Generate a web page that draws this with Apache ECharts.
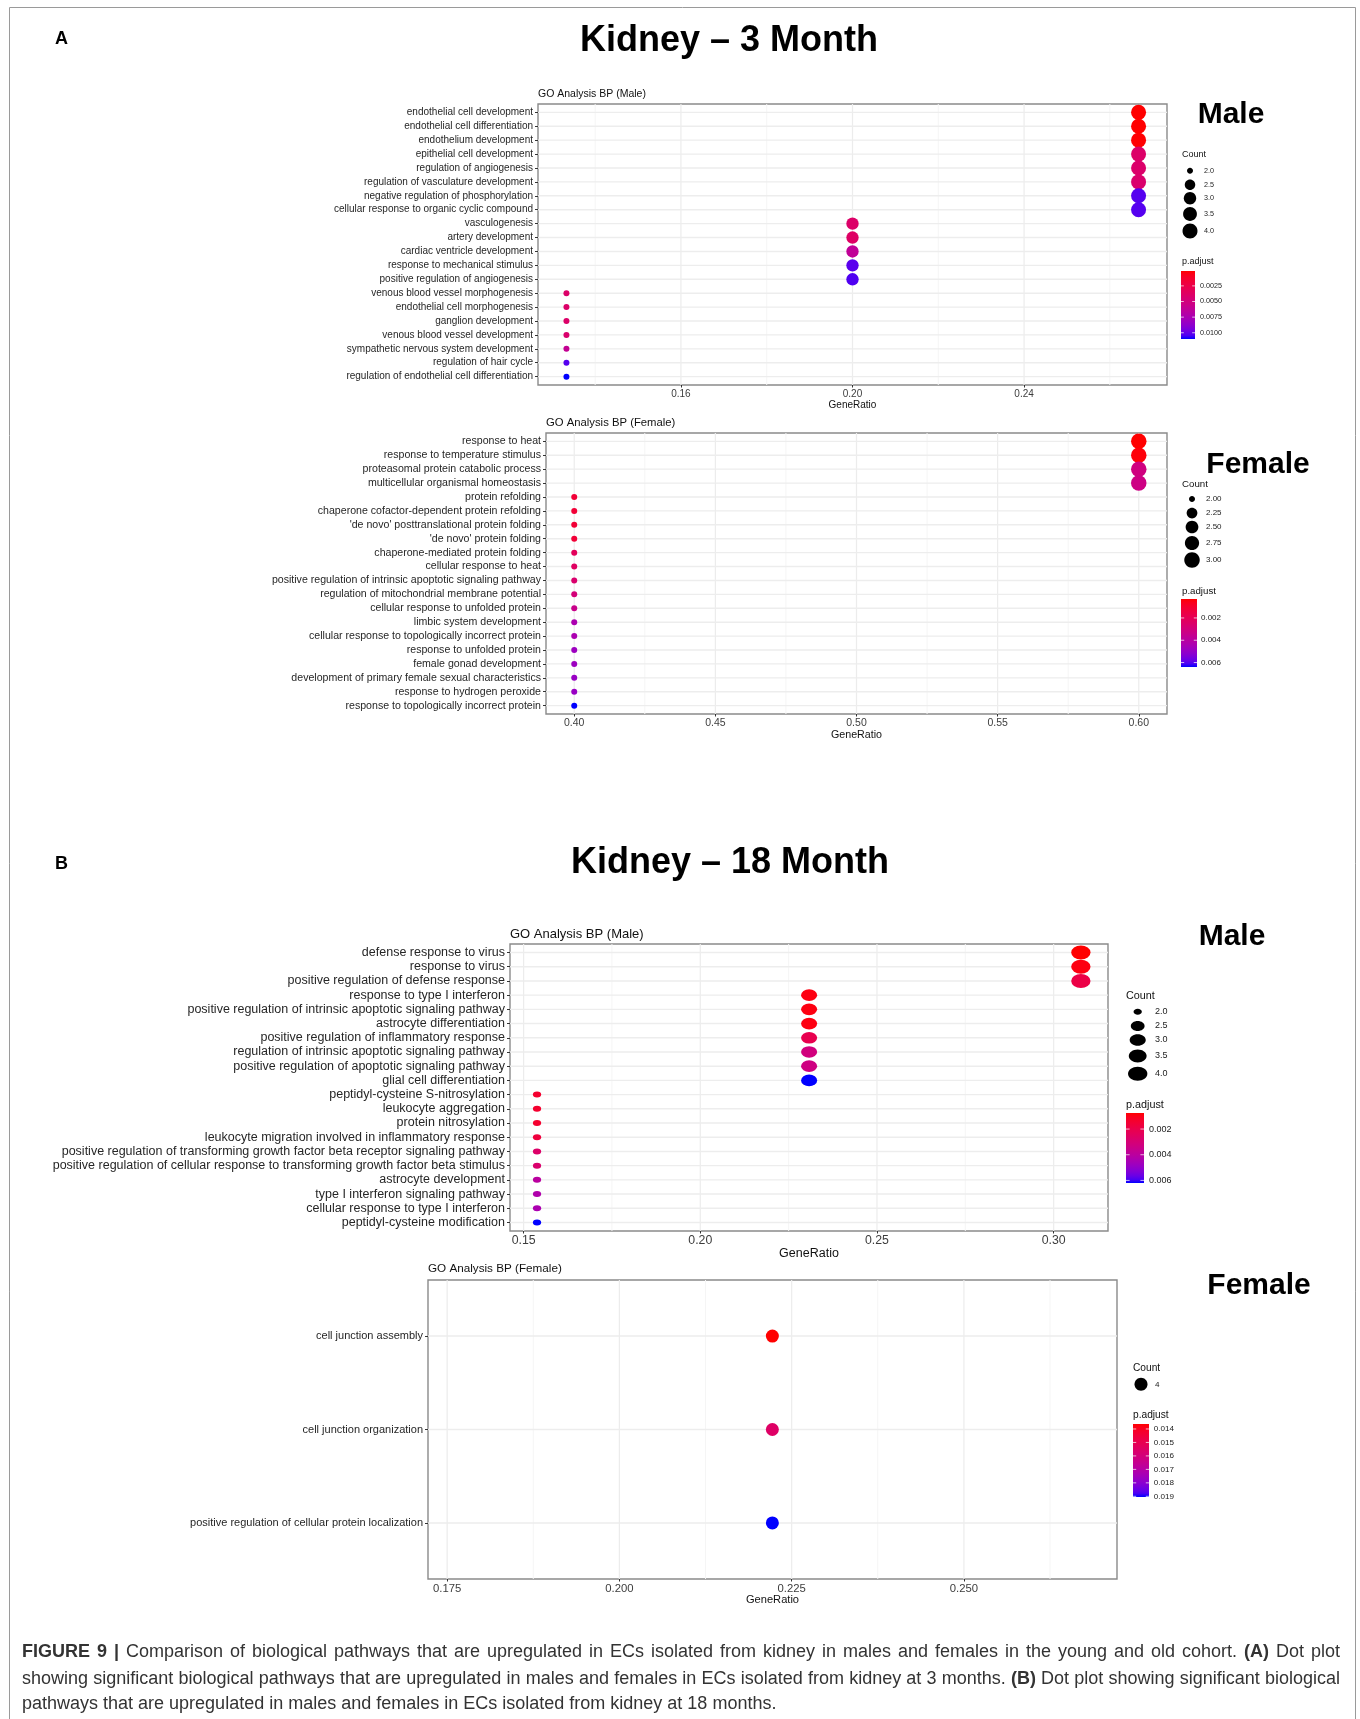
<!DOCTYPE html>
<html><head><meta charset="utf-8">
<script src="https://cdn.jsdelivr.net/npm/echarts@6/dist/echarts.min.js"></script>
<style>html,body{margin:0;padding:0;background:#fff}#c{width:1360px;height:1719px}</style>
</head><body><div id="c"></div><script>
// ---------------- DATA ----------------
// A: Kidney 3 Month, Male
const catsAM = ['endothelial cell development','endothelial cell differentiation','endothelium development','epithelial cell development','regulation of angiogenesis','regulation of vasculature development','negative regulation of phosphorylation','cellular response to organic cyclic compound','vasculogenesis','artery development','cardiac ventricle development','response to mechanical stimulus','positive regulation of angiogenesis','venous blood vessel morphogenesis','endothelial cell morphogenesis','ganglion development','venous blood vessel development','sympathetic nervous system development','regulation of hair cycle','regulation of endothelial cell differentiation'];
const ratioAM = [0.2667,0.2667,0.2667,0.2667,0.2667,0.2667,0.2667,0.2667,0.2,0.2,0.2,0.2,0.2,0.1333,0.1333,0.1333,0.1333,0.1333,0.1333,0.1333];
const countAM = [4,4,4,4,4,4,4,4,3,3,3,3,3,2,2,2,2,2,2,2];
const padjAM = [0.00012,0.00012,0.00015,0.0040,0.0041,0.0042,0.0103,0.0103,0.0040,0.0038,0.0062,0.0102,0.0104,0.0040,0.0040,0.0040,0.0042,0.0060,0.0103,0.0110];
const xTicksAM = [0.16,0.20,0.24];
const xMinorAM = [0.14,0.18,0.22,0.26];
const sizeBreaksAM = [2.0,2.5,3.0,3.5,4.0];
const colorBreaksAM = [0.0025,0.0050,0.0075,0.0100];

// A: Kidney 3 Month, Female
const catsAF = ['response to heat','response to temperature stimulus','proteasomal protein catabolic process','multicellular organismal homeostasis','protein refolding','chaperone cofactor-dependent protein refolding',"'de novo' posttranslational protein folding","'de novo' protein folding",'chaperone-mediated protein folding','cellular response to heat','positive regulation of intrinsic apoptotic signaling pathway','regulation of mitochondrial membrane potential','cellular response to unfolded protein','limbic system development','cellular response to topologically incorrect protein','response to unfolded protein','female gonad development','development of primary female sexual characteristics','response to hydrogen peroxide','response to topologically incorrect protein'];
const ratioAF = [0.6,0.6,0.6,0.6,0.4,0.4,0.4,0.4,0.4,0.4,0.4,0.4,0.4,0.4,0.4,0.4,0.4,0.4,0.4,0.4];
const countAF = [3,3,3,3,2,2,2,2,2,2,2,2,2,2,2,2,2,2,2,2];
const padjAF = [0.0003,0.0004,0.0031,0.0032,0.0012,0.0012,0.0012,0.0012,0.0021,0.0023,0.0026,0.0029,0.0034,0.0044,0.0044,0.0048,0.0048,0.0049,0.0049,0.0064];
const xTicksAF = [0.40,0.45,0.50,0.55,0.60];
const xMinorAF = [0.425,0.475,0.525,0.575];
const sizeBreaksAF = [2.00,2.25,2.50,2.75,3.00];
const colorBreaksAF = [0.002,0.004,0.006];

// B: Kidney 18 Month, Male
const catsBM = ['defense response to virus','response to virus','positive regulation of defense response','response to type I interferon','positive regulation of intrinsic apoptotic signaling pathway','astrocyte differentiation','positive regulation of inflammatory response','regulation of intrinsic apoptotic signaling pathway','positive regulation of apoptotic signaling pathway','glial cell differentiation','peptidyl-cysteine S-nitrosylation','leukocyte aggregation','protein nitrosylation','leukocyte migration involved in inflammatory response','positive regulation of transforming growth factor beta receptor signaling pathway','positive regulation of cellular response to transforming growth factor beta stimulus','astrocyte development','type I interferon signaling pathway','cellular response to type I interferon','peptidyl-cysteine modification'];
const ratioBM = [0.3077,0.3077,0.3077,0.2308,0.2308,0.2308,0.2308,0.2308,0.2308,0.2308,0.1538,0.1538,0.1538,0.1538,0.1538,0.1538,0.1538,0.1538,0.1538,0.1538];
const countBM = [4,4,4,3,3,3,3,3,3,3,2,2,2,2,2,2,2,2,2,2];
const padjBM = [0.00075,0.0009,0.0019,0.0009,0.0009,0.0009,0.0021,0.0032,0.0033,0.0062,0.0014,0.0014,0.0014,0.0017,0.0027,0.0028,0.0040,0.0043,0.0044,0.0062];
const xTicksBM = [0.15,0.20,0.25,0.30];
const xMinorBM = [0.175,0.225,0.275];
const sizeBreaksBM = [2.0,2.5,3.0,3.5,4.0];
const colorBreaksBM = [0.002,0.004,0.006];

// B: Kidney 18 Month, Female
const catsBF = ['cell junction assembly','cell junction organization','positive regulation of cellular protein localization'];
const ratioBF = [0.2222,0.2222,0.2222];
const countBF = [4,4,4];
const padjBF = [0.01363,0.0155,0.01905];
const xTicksBF = [0.175,0.200,0.225,0.250];
const xMinorBF = [0.1875,0.2125,0.2375,0.2625];
const sizeBreaksBF = [4];
const colorBreaksBF = [0.014,0.015,0.016,0.017,0.018,0.019];

// ---------------- STYLE / LAYOUT ----------------
const FONT = '"Liberation Sans", Arial, Helvetica, sans-serif';

function srgb2lin(c){c/=255;return c<=0.04045?c/12.92:Math.pow((c+0.055)/1.055,2.4);}
function lin2srgb(c){c=Math.max(0,Math.min(1,c));return Math.round(255*(c<=0.0031308?12.92*c:1.055*Math.pow(c,1/2.4)-0.055));}
function rgb2lab(r,g,b){
  r=srgb2lin(r);g=srgb2lin(g);b=srgb2lin(b);
  let X=(0.4124564*r+0.3575761*g+0.1804375*b)/0.95047, Y=(0.2126729*r+0.7151522*g+0.0721750*b), Z=(0.0193339*r+0.1191920*g+0.9503041*b)/1.08883;
  const f=t=>t>0.008856?Math.cbrt(t):7.787*t+16/116;
  const fx=f(X),fy=f(Y),fz=f(Z);
  return [116*fy-16,500*(fx-fy),200*(fy-fz)];
}
function lab2hex(L,a,b){
  const fy=(L+16)/116, fx=fy+a/500, fz=fy-b/200;
  const fi=t=>t*t*t>0.008856?t*t*t:(t-16/116)/7.787;
  const X=fi(fx)*0.95047, Y=fi(fy), Z=fi(fz)*1.08883;
  const r=3.2404542*X-1.5371385*Y-0.4985314*Z, g=-0.9692660*X+1.8760108*Y+0.0415560*Z, bb=0.0556434*X-0.2040259*Y+1.0572252*Z;
  const h=v=>lin2srgb(v).toString(16).padStart(2,'0');
  return '#'+h(r)+h(g)+h(bb);
}
const LAB_LO = rgb2lab(255,0,0), LAB_HI = rgb2lab(0,0,255);
function gradColor(t){t=Math.max(0,Math.min(1,t));return lab2hex(LAB_LO[0]+(LAB_HI[0]-LAB_LO[0])*t,LAB_LO[1]+(LAB_HI[1]-LAB_LO[1])*t,LAB_LO[2]+(LAB_HI[2]-LAB_LO[2])*t);}

const panels = [
  {cats:catsAM, ratio:ratioAM, count:countAM, padj:padjAM, xTicks:xTicksAM, xMinor:xMinorAM, sizeBreaks:sizeBreaksAM, colorBreaks:colorBreaksAM,
   title:'GO Analysis BP (Male)', grid:{left:538,top:104,width:629,height:281}, xMin:0.12667, xMax:0.27333, dec:2,
   fs:{y:10,x:10,name:10,title:10.5}, titleY:94, labMargin:4, nameGap:14,
   dmin:6, dmax:15, aspect:1,
   leg:{x:1182, countY:155, circX:1190, circY:[170.7,184.7,198.3,214,231], labX:1204, padjY:262, bar:[1181,271,14,68], barLabX:1200, fsTitle:9, fsLab:7.2, sizeDec:1, colDec:4}},
  {cats:catsAF, ratio:ratioAF, count:countAF, padj:padjAF, xTicks:xTicksAF, xMinor:xMinorAF, sizeBreaks:sizeBreaksAF, colorBreaks:colorBreaksAF,
   title:'GO Analysis BP (Female)', grid:{left:546,top:433,width:621,height:281}, xMin:0.39, xMax:0.61, dec:2,
   fs:{y:10.6,x:10.5,name:10.7,title:11.3}, titleY:423, labMargin:4, nameGap:13,
   dmin:6, dmax:15.5, aspect:1,
   leg:{x:1182, countY:484, circX:1192, circY:[499,513,527,543,560], labX:1206, padjY:591, bar:[1181,599,16,68], barLabX:1201, fsTitle:9.7, fsLab:8, sizeDec:2, colDec:3}},
  {cats:catsBM, ratio:ratioBM, count:countBM, padj:padjBM, xTicks:xTicksBM, xMinor:xMinorBM, sizeBreaks:sizeBreaksBM, colorBreaks:colorBreaksBM,
   title:'GO Analysis BP (Male)', grid:{left:510,top:944,width:598,height:287}, xMin:0.14615, xMax:0.31538, dec:2,
   fs:{y:12.5,x:12.3,name:12.5,title:13}, titleY:934, labMargin:3.5, nameGap:14,
   dmin:6, dmax:14, aspect:1.38,
   leg:{x:1126, countY:996, circX:1137.7, circY:[1011.7,1026,1040,1056,1073.7], labX:1155, padjY:1105, bar:[1126,1113,18,70], barLabX:1149, fsTitle:10.8, fsLab:9, sizeDec:1, colDec:3}},
  {cats:catsBF, ratio:ratioBF, count:countBF, padj:padjBF, xTicks:xTicksBF, xMinor:xMinorBF, sizeBreaks:sizeBreaksBF, colorBreaks:colorBreaksBF,
   title:'GO Analysis BP (Female)', grid:{left:428,top:1280,width:689,height:299}, xMin:0.17222, xMax:0.27222, dec:3,
   fs:{y:11,x:11.3,name:11.1,title:11.7}, titleY:1269, labMargin:4, nameGap:14,
   dmin:13, dmax:13, aspect:1,
   leg:{x:1133, countY:1367.7, circX:1141, circY:[1384.3], labX:1155, padjY:1415, bar:[1133,1424,16,73], barLabX:1153.7, fsTitle:10.2, fsLab:8.1, sizeDec:0, colDec:3}}
];

const GRID_STYLE = {
  0:{stroke:'#ececec', lineWidth:1.2},   // major vertical
  1:{stroke:'#f5f5f5', lineWidth:1},     // minor vertical
  2:{stroke:'#ededed', lineWidth:1.4}    // horizontal (category)
};

function txt(text,x,y,o){
  o=o||{};
  return {type:'text', silent:true, z:o.z||10, style:{text:text, x:x, y:y, fill:o.fill||'#000', fontSize:o.size||10, fontFamily:o.family||FONT, fontWeight:o.weight||'normal',
    align:o.align||'left', verticalAlign:o.va||'middle', textAlign:o.align||'left', textVerticalAlign:o.va||'middle', rich:o.rich}};
}

const grids=[], xAxes=[], yAxes=[], series=[], graphics=[];
panels.forEach((p,i)=>{
  const n=p.cats.length;
  const idx=p.cats.map((_,j)=>j);
  const cMin=Math.min(...p.count), cMax=Math.max(...p.count);
  const pMin=Math.min(...p.padj), pMax=Math.max(...p.padj);
  const sizeOf=c=>cMax===cMin?p.dmax:p.dmin+Math.sqrt((c-cMin)/(cMax-cMin))*(p.dmax-p.dmin);
  const colOf=v=>gradColor((v-pMin)/(pMax-pMin));
  grids.push(Object.assign({show:true, borderColor:'#8a8a8a', borderWidth:1.4, backgroundColor:'#fff', containLabel:false}, p.grid));
  xAxes.push({gridIndex:i, type:'value', min:p.xMin, max:p.xMax, position:'bottom',
    axisLine:{show:false, onZero:false}, splitLine:{show:false},
    axisTick:{show:true, customValues:p.xTicks, length:2.5, lineStyle:{color:'#333',width:1}},
    axisLabel:{customValues:p.xTicks, formatter:v=>v.toFixed(p.dec), fontSize:p.fs.x, fontFamily:FONT, color:'#3d3d3d', margin:p.labMargin},
    name:'GeneRatio', nameLocation:'middle', nameGap:p.nameGap, nameTextStyle:{fontSize:p.fs.name, fontFamily:FONT, color:'#111'}});
  yAxes.push({gridIndex:i, type:'value', inverse:true, min:-0.6, max:n-0.4, position:'left',
    axisLine:{show:false, onZero:false}, splitLine:{show:false},
    axisTick:{show:true, customValues:idx, length:3, lineStyle:{color:'#333',width:1}},
    axisLabel:{customValues:idx, formatter:v=>p.cats[Math.round(v)]||'', fontSize:p.fs.y, fontFamily:FONT, color:'#262626', margin:5}});
  // gridlines via custom series (positions through the axes' scales)
  const gridData=[].concat(p.xMinor.map(v=>[1,v]), p.xTicks.map(v=>[0,v]), idx.map(v=>[2,v]));
  series.push({type:'custom', xAxisIndex:i, yAxisIndex:i, z:1, silent:true, clip:false,
    encode:{x:-1,y:-1},
    data:gridData,
    renderItem:(params,api)=>{
      const kind=api.value(0), v=api.value(1);
      let a,b;
      if(kind===2){a=api.coord([p.xMin,v]);b=api.coord([p.xMax,v]);}
      else{a=api.coord([v,-0.6]);b=api.coord([v,n-0.4]);}
      return {type:'line', shape:{x1:a[0],y1:a[1],x2:b[0],y2:b[1]}, style:Object.assign({}, GRID_STYLE[kind])};
    }});
  // dots
  const sym = p.aspect===1 ? 'circle' : 'path://M0,50 A50,50 0 1,1 100,50 A50,50 0 1,1 0,50 Z';
  series.push({type:'scatter', xAxisIndex:i, yAxisIndex:i, z:5, silent:true, symbol:sym,
    itemStyle:{opacity:1},
    data:p.ratio.map((r,j)=>{const h=sizeOf(p.count[j]);return {value:[r,j], symbolSize:[h*p.aspect,h], itemStyle:{color:colOf(p.padj[j]), opacity:1}};})});
  // panel title
  graphics.push(txt(p.title, p.grid.left, p.titleY, {size:p.fs.title, fill:'#111'}));
  // legend: Count
  const L=p.leg;
  graphics.push(txt('Count', L.x, L.countY, {size:L.fsTitle, fill:'#111'}));
  p.sizeBreaks.forEach((c,k)=>{
    const h=sizeOf(c);
    graphics.push({type:'ellipse', silent:true, z:10, shape:{cx:L.circX, cy:L.circY[k], rx:h*p.aspect/2, ry:h/2}, style:{fill:'#000'}});
    graphics.push(txt(L.sizeDec?c.toFixed(L.sizeDec):String(c), L.labX, L.circY[k], {size:L.fsLab, fill:'#222'}));
  });
  // legend: p.adjust colourbar
  graphics.push(txt('p.adjust', L.x, L.padjY, {size:L.fsTitle, fill:'#111'}));
  const stops=[]; for(let k=0;k<=20;k++){stops.push({offset:k/20, color:gradColor(k/20)});}
  const [bx,by,bw,bh]=L.bar;
  graphics.push({type:'rect', silent:true, z:10, shape:{x:bx,y:by,width:bw,height:bh}, style:{fill:{type:'linear',x:0,y:0,x2:0,y2:1,colorStops:stops}}});
  p.colorBreaks.forEach(v=>{
    const yy=by+(v-pMin)/(pMax-pMin)*bh;
    graphics.push({type:'line', silent:true, z:11, shape:{x1:bx,y1:yy,x2:bx+bw*0.2,y2:yy}, style:{stroke:'rgba(255,255,255,0.7)',lineWidth:1}});
    graphics.push({type:'line', silent:true, z:11, shape:{x1:bx+bw*0.8,y1:yy,x2:bx+bw,y2:yy}, style:{stroke:'rgba(255,255,255,0.7)',lineWidth:1}});
    graphics.push(txt(v.toFixed(L.colDec), L.barLabX, yy, {size:L.fsLab, fill:'#222'}));
  });
});

// outer frame, headings
graphics.push({type:'rect', silent:true, z:0, shape:{x:9.5,y:7.5,width:1346,height:1730}, style:{fill:'none', stroke:'#9a9a9a', lineWidth:1}});
graphics.push(txt('A', 55, 39, {size:18, weight:'bold'}));
graphics.push(txt('B', 55, 864, {size:18, weight:'bold'}));
graphics.push(txt('Kidney \u2013 3 Month', 729, 41, {size:36, weight:'bold', align:'center'}));
graphics.push(txt('Kidney \u2013 18 Month', 730, 863, {size:36, weight:'bold', align:'center'}));
graphics.push(txt('Male', 1231, 115, {size:30, weight:'bold', align:'center'}));
graphics.push(txt('Female', 1258, 464.5, {size:30, weight:'bold', align:'center'}));
graphics.push(txt('Male', 1232, 937, {size:30, weight:'bold', align:'center'}));
graphics.push(txt('Female', 1259, 1286, {size:30, weight:'bold', align:'center'}));

// caption (justified like the journal layout); words starting with * are bold
const CAP_SIZE = 18, CAP_LEFT = 22, CAP_RIGHT = 1340;
const capLines = [
  {text:'*FIGURE *9 *| Comparison of biological pathways that are upregulated in ECs isolated from kidney in males and females in the young and old cohort. *(A) Dot plot', y:1652, justify:true},
  {text:'showing significant biological pathways that are upregulated in males and females in ECs isolated from kidney at 3 months. *(B) Dot plot showing significant biological', y:1679, justify:true},
  {text:'pathways that are upregulated in males and females in ECs isolated from kidney at 18 months.', y:1704, justify:false}
];
const mctx = document.createElement('canvas').getContext('2d');
function measure(w,bold){mctx.font=(bold?'bold ':'')+CAP_SIZE+'px "Liberation Sans", Arial, sans-serif';return mctx.measureText(w).width;}
capLines.forEach(line=>{
  const words=line.text.split(' ').map(w=>w[0]==='*'?{t:w.slice(1),b:true}:{t:w,b:false});
  const widths=words.map(w=>measure(w.t,w.b));
  const total=widths.reduce((a,b)=>a+b,0);
  const gap=line.justify?(CAP_RIGHT-CAP_LEFT-total)/(words.length-1):measure(' ',false);
  let x=CAP_LEFT;
  words.forEach((w,k)=>{
    graphics.push(txt(w.t, x, line.y, {size:CAP_SIZE, fill:'#333', weight:w.b?'bold':'normal'}));
    x+=widths[k]+gap;
  });
});

const chart = echarts.init(document.getElementById('c'), null, {renderer:'canvas'});
chart.setOption({animation:false, backgroundColor:'#fff', grid:grids, xAxis:xAxes, yAxis:yAxes, series:series, graphic:{elements:graphics}});
</script></body></html>
